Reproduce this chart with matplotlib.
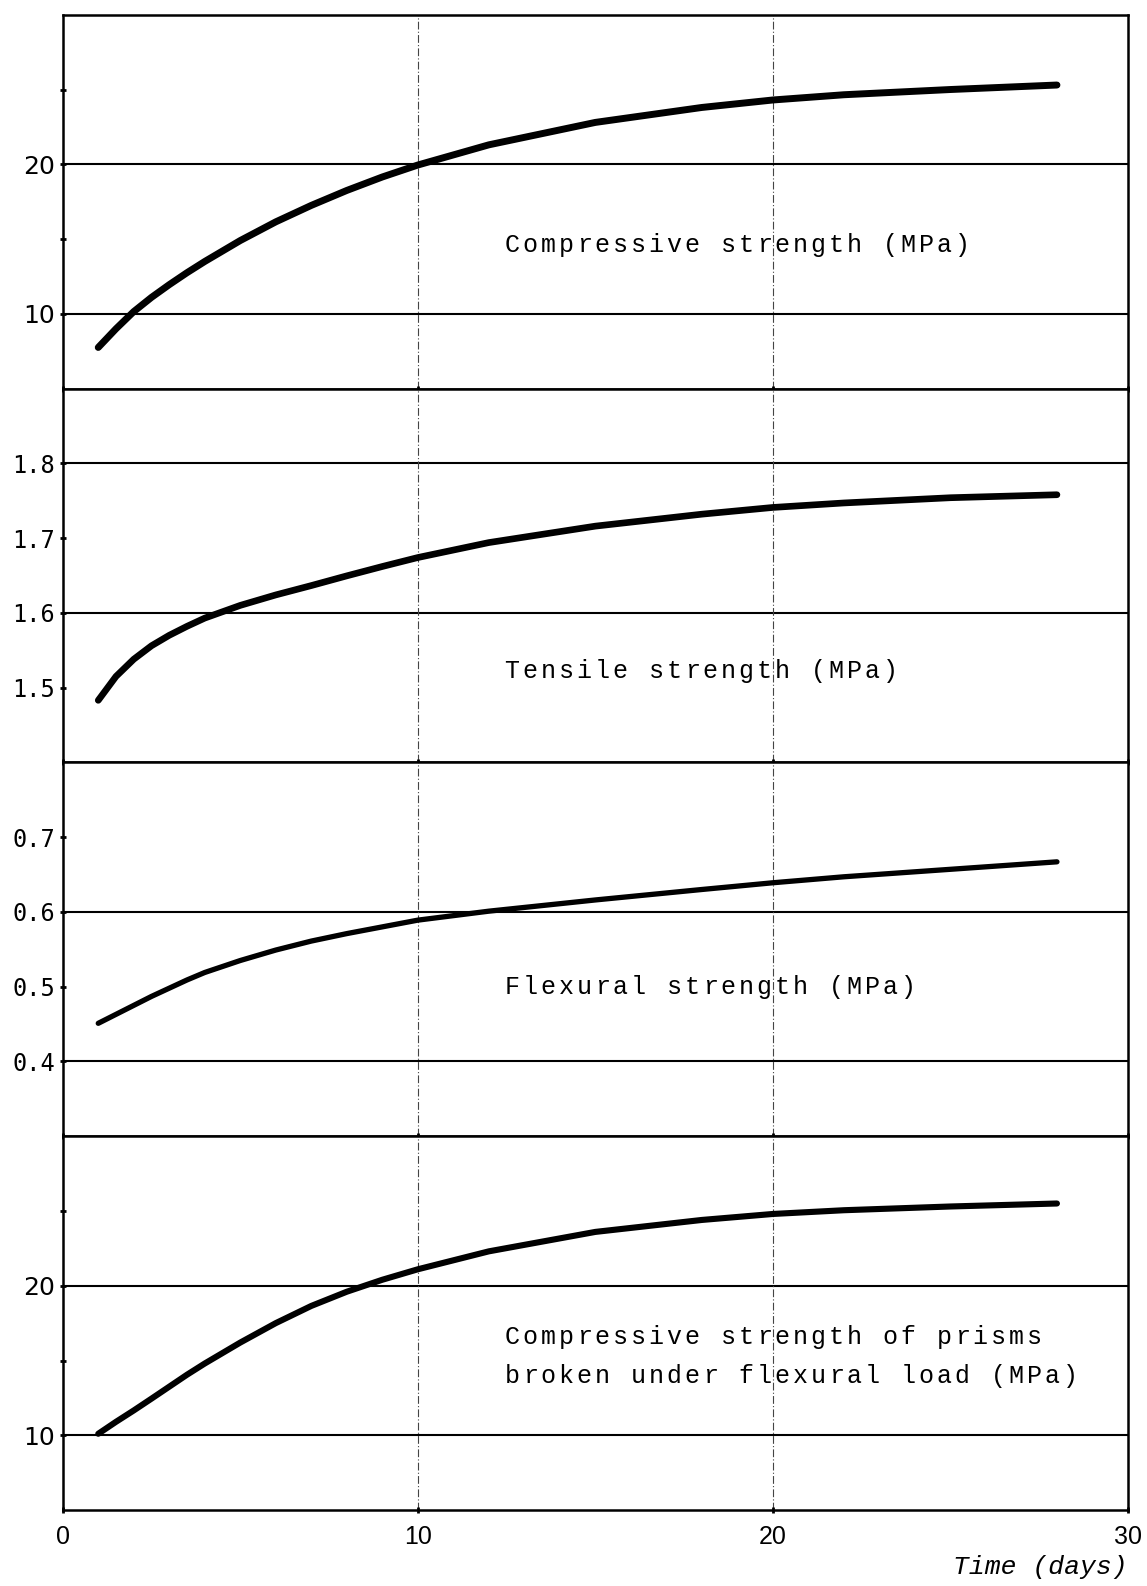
import numpy as np
import matplotlib.pyplot as plt
from matplotlib.transforms import offset_copy

# time axis (days) and the four strength curves
days = [1, 1.5, 2, 2.5, 3, 3.5, 4, 5, 6, 7, 8, 9, 10, 12, 15, 18, 20, 22, 25, 28]
compressive = [7.75, 9.0, 10.15, 11.1, 11.95, 12.75, 13.5, 14.9, 16.15, 17.25, 18.25, 19.15, 19.95,
               21.3, 22.8, 23.8, 24.3, 24.65, 25.0, 25.3]
tensile = [1.483, 1.515, 1.538, 1.556, 1.570, 1.582, 1.593, 1.610, 1.624, 1.6365, 1.6495, 1.662, 1.674,
           1.694, 1.716, 1.732, 1.741, 1.747, 1.754, 1.758]
flexural = [0.451, 0.463, 0.475, 0.487, 0.498, 0.509, 0.519, 0.535, 0.549, 0.561, 0.571, 0.580, 0.589,
            0.601, 0.616, 0.630, 0.639, 0.647, 0.657, 0.667]
prisms = [10.1, 10.9, 11.66, 12.45, 13.25, 14.05, 14.8, 16.2, 17.5, 18.65, 19.6, 20.4, 21.1,
          22.3, 23.6, 24.4, 24.8, 25.05, 25.3, 25.5]

# panel texts, one entry per line, with the line's y value
labels = [[("Compressive strength (MPa)", 14.6)],
          [("Tensile strength (MPa)", 1.522)],
          [("Flexural strength (MPa)", 0.5)],
          [("Compressive strength of prisms", 16.56),
           ("broken under flexural load (MPa)", 13.94)]]

ylims = [(5, 30), (1.4, 1.9), (0.3, 0.8), (5, 30)]
yticks = [[10, 20], [1.5, 1.6, 1.7, 1.8], [0.4, 0.5, 0.6, 0.7], [10, 20]]
yminor = [[15, 25], [], [], [15, 25]]
ytick_labels = [["10", "20"], ["1.5", "1.6", "1.7", "1.8"], ["0.4", "0.5", "0.6", "0.7"], ["10", "20"]]
hlines = [[10, 20], [1.6, 1.8], [0.4, 0.6], [10, 20]]
xticks = [0, 10, 20, 30]

series = [compressive, tensile, flexural, prisms]
widths = [5.0, 4.8, 3.8, 4.4]

PITCH = 18.0  # typewriter character pitch in pixels


def typewriter(ax, x, y, s):
    # place each character on a fixed pitch, like the typed original
    for k, ch in enumerate(s):
        if ch == " ":
            continue
        tr = offset_copy(ax.transData, fig=ax.figure, x=(k + 0.5) * PITCH, y=0, units='dots')
        ax.text(x, y, ch, transform=tr, family='Liberation Mono', fontsize=18,
                ha='center', va='center', zorder=4)


fig, axes = plt.subplots(4, 1, figsize=(11.47, 15.86), dpi=100, sharex=True)
fig.subplots_adjust(left=0.0547, right=0.9834, top=0.9907, bottom=0.0479, hspace=0)

for i, ax in enumerate(axes):
    ax.set_xlim(0, 30)
    ax.set_ylim(*ylims[i])
    for v in hlines[i]:
        ax.axhline(v, color='black', lw=1.5, zorder=1)
    for v in [10, 20]:
        ax.axvline(v, color='#444444', lw=0.8, ls=(0, (7, 2, 1, 2)), zorder=1)
    ax.plot(days, series[i], color='black', lw=widths[i], solid_capstyle='round', zorder=3)
    for txt, ty in labels[i]:
        typewriter(ax, 12.4, ty, txt)

    ax.set_yticks(yticks[i])
    ax.set_yticks(yminor[i], minor=True)
    if i in (1, 2):
        ax.set_yticklabels(ytick_labels[i], family='DejaVu Sans Mono', fontsize=17)
    else:
        ax.set_yticklabels(ytick_labels[i], family='DejaVu Sans', fontsize=18)
    ax.tick_params(axis='y', which='both', direction='inout', length=5, width=2, pad=3)
    ax.tick_params(axis='x', which='both', direction='inout', length=5, width=2)
    for s in ax.spines.values():
        s.set_linewidth(1.8)

axes[-1].set_xticks(xticks)
axes[-1].set_xticklabels([str(t) for t in xticks], family='Liberation Sans', fontsize=18)
axes[-1].tick_params(axis='x', pad=8)
fig.text(0.9834, 1 - 1567 / 1586, "Time (days)", family='Liberation Mono', style='italic',
         fontsize=19, ha='right', va='center')

plt.savefig("out.png", dpi=100)
